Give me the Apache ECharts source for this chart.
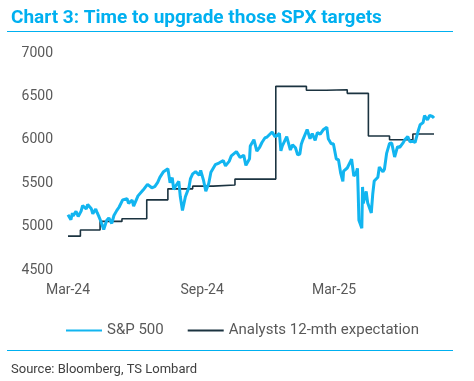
<!DOCTYPE html>
<html>
<head>
<meta charset="utf-8">
<script src="https://cdn.jsdelivr.net/npm/echarts@6/dist/echarts.min.js"></script>
<style>
html,body{margin:0;padding:0;background:#fff;}
#c{width:474px;height:381px;}
</style>
</head>
<body>
<div id="c"></div>
<script>
// ---- Data ----
const spxDates = [
'2024-03-01','2024-03-05','2024-03-07','2024-03-08','2024-03-12','2024-03-15','2024-03-19','2024-03-21','2024-03-26','2024-03-28',
'2024-04-02','2024-04-04','2024-04-08','2024-04-10','2024-04-12','2024-04-15','2024-04-19','2024-04-23','2024-04-26','2024-04-30',
'2024-05-03','2024-05-07','2024-05-10','2024-05-15','2024-05-21','2024-05-23','2024-05-28','2024-05-30','2024-06-05','2024-06-07',
'2024-06-12','2024-06-14','2024-06-18','2024-06-24','2024-06-28','2024-07-02','2024-07-05','2024-07-10','2024-07-12','2024-07-16',
'2024-07-19','2024-07-22','2024-07-24','2024-07-26','2024-07-31','2024-08-02','2024-08-05','2024-08-07','2024-08-09','2024-08-14',
'2024-08-16','2024-08-19','2024-08-23','2024-08-28','2024-08-30','2024-09-03','2024-09-06','2024-09-10','2024-09-13','2024-09-19',
'2024-09-24','2024-09-30','2024-10-03','2024-10-08','2024-10-11','2024-10-18','2024-10-23','2024-10-25','2024-10-28','2024-10-31',
'2024-11-05','2024-11-06','2024-11-11','2024-11-15','2024-11-19','2024-11-22','2024-11-26','2024-11-29','2024-12-06','2024-12-10',
'2024-12-13','2024-12-16','2024-12-18','2024-12-20','2024-12-26','2024-12-31','2025-01-03','2025-01-07','2025-01-10','2025-01-13',
'2025-01-15','2025-01-17','2025-01-23','2025-01-27','2025-01-30','2025-02-03','2025-02-06','2025-02-10','2025-02-14','2025-02-19',
'2025-02-21','2025-02-25','2025-02-28','2025-03-04','2025-03-07','2025-03-10','2025-03-13','2025-03-14','2025-03-19','2025-03-21',
'2025-03-25','2025-03-28','2025-03-31','2025-04-02','2025-04-03','2025-04-04','2025-04-08','2025-04-09','2025-04-10','2025-04-14',
'2025-04-16','2025-04-21','2025-04-23','2025-04-25','2025-04-30','2025-05-02','2025-05-07','2025-05-09','2025-05-12','2025-05-16',
'2025-05-19','2025-05-23','2025-05-27','2025-05-30','2025-06-04','2025-06-06','2025-06-10','2025-06-13','2025-06-17','2025-06-20',
'2025-06-24','2025-06-27','2025-07-01','2025-07-03','2025-07-07','2025-07-10','2025-07-14','2025-07-16'
];
const spxValues = [
5137,5079,5157,5124,5175,5117,5178,5241,5203,5254,
5205,5147,5202,5160,5123,5061,4967,5070,5100,5036,
5128,5187,5223,5308,5321,5268,5306,5235,5354,5347,
5421,5431,5487,5448,5460,5509,5567,5633,5615,5667,
5505,5564,5427,5459,5522,5346,5186,5199,5344,5455,
5554,5608,5634,5592,5648,5529,5408,5496,5626,5713,
5732,5762,5700,5751,5815,5864,5797,5808,5823,5705,
5782,5929,6001,5870,5917,5969,6021,6032,6090,6035,
6051,6074,5872,5930,6037,5882,5942,5909,5827,5836,
5950,5997,6119,6012,6071,5994,6083,6066,6115,6144,
6013,5955,5955,5778,5770,5615,5522,5639,5675,5668,
5777,5581,5612,5671,5397,5074,4982,5457,5268,5406,
5276,5158,5376,5525,5569,5686,5631,5660,5844,5958,
5963,5802,5922,5912,5971,6000,6038,5977,5983,5968,
6092,6173,6198,6279,6230,6280,6269,6250
];
const targetDates = [
'2024-03-01','2024-03-18','2024-04-14','2024-05-14','2024-06-17','2024-07-16','2024-08-19','2024-09-16','2024-10-16',
'2024-12-11','2025-01-22','2025-02-18','2025-03-19','2025-04-17','2025-05-16','2025-06-17','2025-07-16'
];
const targetValues = [
4890,4960,5060,5090,5308,5435,5466,5480,5547,
6616,6570,6577,6535,6043,6000,6066,6066
];
const xTickDates = ['2024-03-01','2024-09-01','2025-03-01'];
const xTickLabels = ['Mar-24','Sep-24','Mar-25'];
const yMin = 4500, yMax = 7000, yStep = 500;

// ---- Helpers ----
const t = s => Date.parse(s + 'T00:00:00Z');
const spxData = spxDates.map((d, i) => [t(d), spxValues[i]]);
const targetData = targetDates.map((d, i) => [t(d), targetValues[i]]);
const tickVals = xTickDates.map(t);

const chart = echarts.init(document.getElementById('c'), null, {renderer: 'canvas'});
const font = 'Roboto, "Liberation Sans", Arial, sans-serif';
chart.setOption({
  animation: false,
  backgroundColor: '#ffffff',
  textStyle: {fontFamily: font},
  title: [
    {text: 'Chart 3: Time to upgrade those SPX targets', left: 6, top: 4,
     textStyle: {fontFamily: font, fontSize: 19, fontWeight: 'bold', color: '#00b0f0'}},
    {text: 'Source: Bloomberg, TS Lombard', left: 6, top: 358,
     textStyle: {fontFamily: font, fontSize: 13, fontWeight: 'normal', color: '#404040'}}
  ],
  graphic: [
    {type: 'line', shape: {x1: 7, y1: 31.5, x2: 453, y2: 31.5}, style: {stroke: '#00b0f0', lineWidth: 1.2}},
    {type: 'line', shape: {x1: 7, y1: 350.5, x2: 453, y2: 350.5}, style: {stroke: '#00b0f0', lineWidth: 1.2}}
  ],
  legend: {
    left: 60, top: 318, itemWidth: 36, itemHeight: 14, itemGap: 23,
    itemStyle: {opacity: 0},
    textStyle: {fontFamily: font, fontSize: 15, color: '#595959'},
    data: ['S&P 500', 'Analysts 12-mth expectation']
  },
  grid: {left: 68, right: 40, top: 53, bottom: 111, containLabel: false},
  xAxis: {
    type: 'value',
    min: t('2024-03-01'), max: t('2025-07-16'),
    axisLine: {show: false}, axisTick: {show: false}, splitLine: {show: false},
    axisLabel: {
      customValues: tickVals,
      margin: 13,
      fontSize: 14, color: '#595959', fontFamily: font,
      formatter: v => { const i = tickVals.indexOf(v); return i >= 0 ? xTickLabels[i] : ''; }
    }
  },
  yAxis: {
    type: 'value', min: yMin, max: yMax, interval: yStep,
    axisLine: {show: false}, axisTick: {show: false}, splitLine: {show: false},
    axisLabel: {margin: 15, fontSize: 14, color: '#595959', fontFamily: font,
      formatter: v => String(v)}
  },
  series: [
    {name: 'S&P 500', type: 'line', data: spxData, symbol: 'none', showSymbol: false,
     lineStyle: {color: '#12b5f0', width: 3}, itemStyle: {color: '#12b5f0', opacity: 0}, z: 3},
    {name: 'Analysts 12-mth expectation', type: 'line', data: targetData, step: 'end',
     symbol: 'none', showSymbol: false,
     lineStyle: {color: '#1b3340', width: 1.6}, itemStyle: {color: '#1b3340', opacity: 0}, z: 2}
  ]
});
</script>
</body>
</html>
